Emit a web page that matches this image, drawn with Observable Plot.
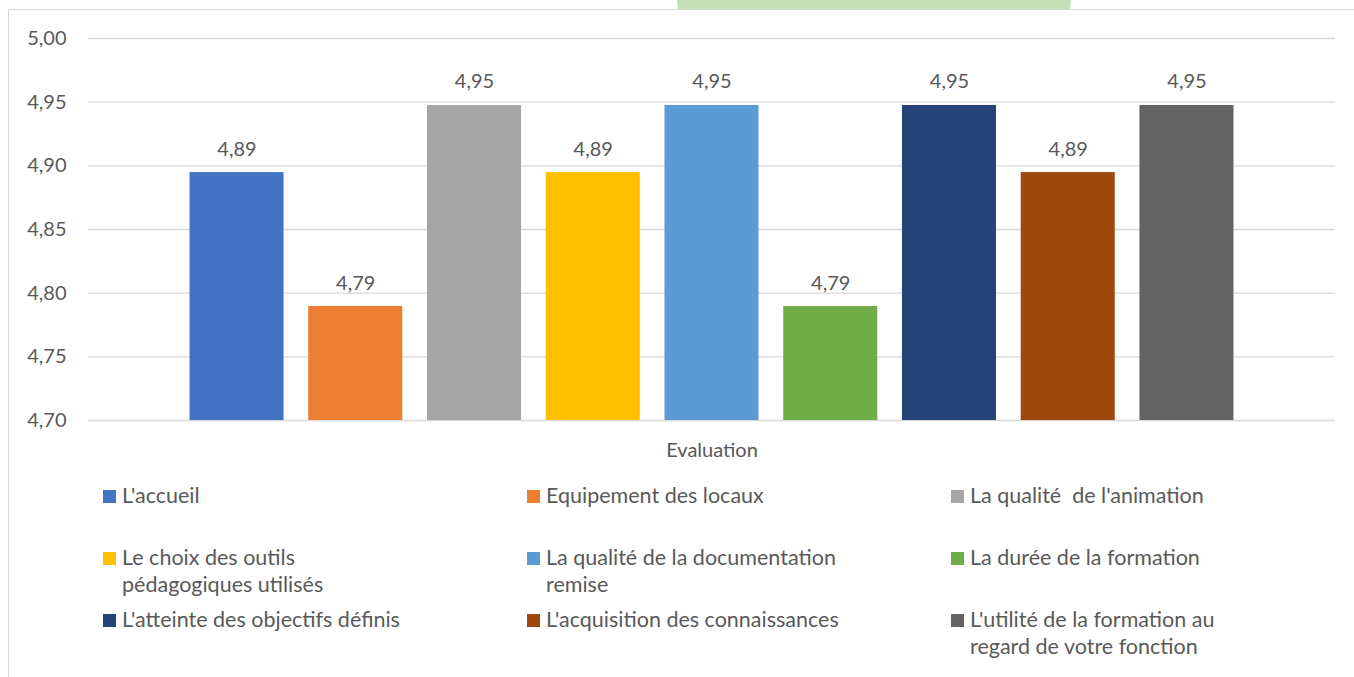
<!DOCTYPE html>
<html>
<head>
<meta charset="utf-8">
<script src="https://cdn.jsdelivr.net/npm/d3@7"></script>
<script src="https://cdn.jsdelivr.net/npm/@observablehq/plot@0.6"></script>
<style>
  html, body { margin: 0; padding: 0; background: #fff; }
  #wrap { position: relative; width: 1354px; height: 677px; overflow: hidden; font-family: Lato, "Open Sans", sans-serif; }
  #deco { position: absolute; left: 677px; top: 0; width: 394px; height: 10px; background: #C5E0B4;
          clip-path: polygon(0 0, 100% 0, 99.7% 100%, 0.3% 100%); }
  #frame { position: absolute; left: 8px; top: 9px; width: 1400px; height: 700px; border-left: 1px solid #d9d9d9; border-top: 1px solid #d9d9d9; box-sizing: border-box; }
  #chart { position: absolute; left: 0; top: 0; }
  #legend { position: absolute; left: 103px; top: 482px; display: grid; grid-template-columns: 424px 424px 424px; grid-auto-rows: 62px; }
  .item { display: flex; align-items: flex-start; color: #595959; font-size: 21.5px; line-height: 27px; }
  .sw { width: 13px; height: 13px; flex: 0 0 13px; margin-top: 8px; margin-right: 6px; }
  .lab { width: 300px; white-space: pre-wrap; }
</style>
</head>
<body>
<div id="wrap">
  <div id="deco"></div>
  <div id="frame"></div>
  <div id="chart"></div>
  <div id="legend"></div>
</div>
<script>
const categories = [
  "L'accueil",
  "Equipement des locaux",
  "La qualité  de l'animation",
  "Le choix des outils pédagogiques utilisés",
  "La qualité de la documentation remise",
  "La durée de la formation",
  "L'atteinte des objectifs définis",
  "L'acquisition des connaissances",
  "L'utilité de la formation au regard de votre fonction"
];
const values = [4.8947, 4.7895, 4.9474, 4.8947, 4.9474, 4.7895, 4.9474, 4.8947, 4.9474];
const colors = ["#4472C4", "#ED7D31", "#A5A5A5", "#FFC000", "#5B9BD5", "#70AD47", "#264478", "#9E480E", "#636363"];
const yTicks = [4.70, 4.75, 4.80, 4.85, 4.90, 4.95, 5.00];
const groupLabel = "Evaluation";

const data = categories.map((c, i) => ({cat: c, value: values[i]}));
const fmt = d => d.toFixed(2).replace(".", ",");

const plot = Plot.plot({
  width: 1354,
  height: 470,
  marginTop: 38,
  marginBottom: 50,
  marginLeft: 88,
  marginRight: 19,
  style: {fontFamily: "Lato, 'Open Sans', sans-serif", fontSize: "20px", color: "#595959", background: "transparent"},
  x: {domain: categories, paddingInner: 0.208, paddingOuter: 0.855, round: false, axis: null},
  y: {domain: [4.70, 5.00]},
  color: {domain: categories, range: colors},
  marks: [
    Plot.ruleY(yTicks, {stroke: "#d9d9d9", strokeWidth: 1.3}),
    Plot.barY(data, {x: "cat", y1: 4.70, y2: "value", fill: "cat"}),
    Plot.text(data, {x: "cat", y: "value", text: d => fmt(d.value), lineAnchor: "bottom", dy: -17, fill: "#595959", fontSize: 20}),
    Plot.axisY({ticks: yTicks, tickSize: 0, tickPadding: 22, tickFormat: fmt, fontSize: 20, fill: "#595959", label: null}),
    Plot.text([groupLabel], {frameAnchor: "bottom", dy: 30, lineAnchor: "middle", fill: "#595959", fontSize: 20})
  ]
});
document.getElementById("chart").appendChild(plot);

const legend = document.getElementById("legend");
categories.forEach((c, i) => {
  const item = document.createElement("div");
  item.className = "item";
  const sw = document.createElement("div");
  sw.className = "sw";
  sw.style.background = colors[i];
  const lab = document.createElement("div");
  lab.className = "lab";
  lab.textContent = c;
  item.appendChild(sw);
  item.appendChild(lab);
  legend.appendChild(item);
});
</script>
</body>
</html>
